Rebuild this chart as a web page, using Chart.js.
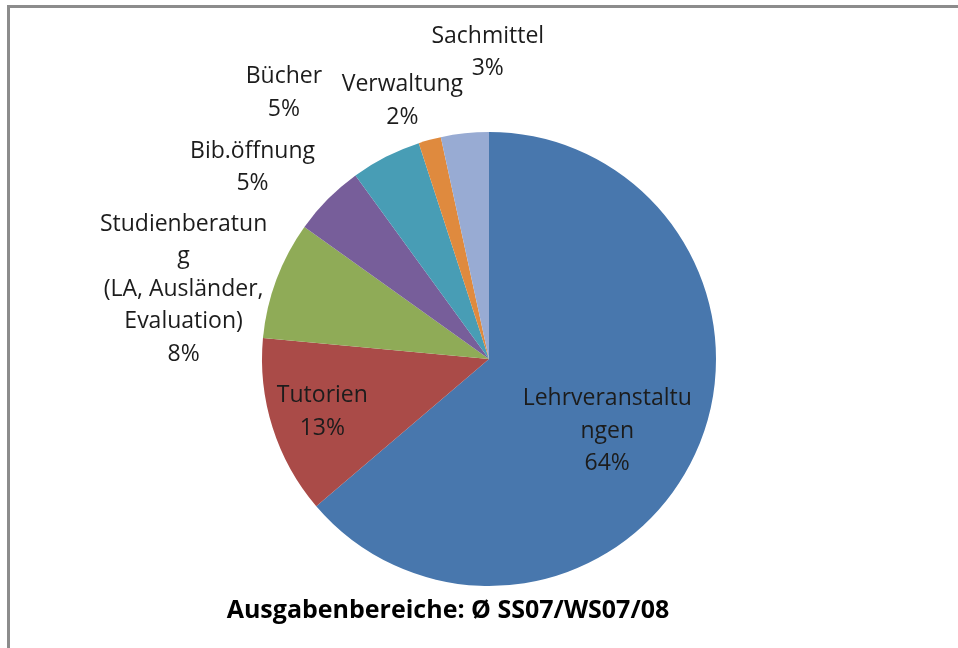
<!DOCTYPE html>
<html>
<head>
<meta charset="utf-8">
<script src="https://cdn.jsdelivr.net/npm/chart.js@4.4.1/dist/chart.umd.min.js"></script>
<style>
  html, body { margin: 0; padding: 0; background: #fff; overflow: hidden; }
  #wrap { position: relative; width: 958px; height: 648px; }
  #frame { position: absolute; left: 7px; top: 5px; width: 1000px; height: 700px; border: 3px solid #8c8c8c; box-sizing: border-box; }
  canvas { position: absolute; left: 0; top: 0; }
</style>
</head>
<body>
<div id="wrap">
  <div id="frame"></div>
  <canvas id="pie" width="958" height="648"></canvas>
</div>
<script>
// Ausgabenbereiche, Anteile in %
var categories = ['Lehrveranstaltungen', 'Tutorien', 'Studienberatung (LA, Ausländer, Evaluation)', 'Bib.öffnung', 'Bücher', 'Verwaltung', 'Sachmittel'];
var values = [63.7, 12.7, 8.4, 5.1, 5.0, 1.6, 3.4];
// how Excel wrapped the label text
var labelLines = [
    ['Lehrveranstaltu', 'ngen'],
    ['Tutorien'],
    ['Studienberatun', 'g', '(LA, Ausländer,', 'Evaluation)'],
    ['Bib.öffnung'],
    ['Bücher'],
    ['Verwaltung'],
    ['Sachmittel']
];
var colors = ['#4877ad', '#aa4b48', '#8fab57', '#775e9a', '#489db5', '#df8a3e', '#98abd3'];

// label placement: radius factor and angle shift (deg) from slice middle
var labelPlace = [[0.61, 6.6], [0.77, 0], [1.38, -7.6], [1.34, -5.8], [1.48, -10.6], [1.20, -3.4], [1.35, 5.9]];

var titleText = 'Ausgabenbereiche: Ø SS07/WS07/08';

var labelPlugin = {
    id: 'excelLabels',
    afterDatasetsDraw: function(chart) {
        var ctx = chart.ctx;
        var meta = chart.getDatasetMeta(0);
        var total = values.reduce(function(a, b) { return a + b; }, 0);
        ctx.save();
        ctx.fillStyle = '#1c1c1c';
        ctx.font = '23px "Open Sans"';
        ctx.textAlign = 'center';
        ctx.textBaseline = 'middle';
        meta.data.forEach(function(arc, i) {
            var mid = (arc.startAngle + arc.endAngle) / 2 + labelPlace[i][1] * Math.PI / 180;
            var rr = arc.outerRadius * labelPlace[i][0];
            var x = arc.x + rr * Math.cos(mid);
            var y = arc.y + rr * Math.sin(mid);
            var lines = labelLines[i].concat([Math.round(values[i] / total * 100) + '%']);
            var lh = 32.5;
            var y0 = y - (lines.length - 1) * lh / 2;
            lines.forEach(function(t, j) {
                ctx.fillText(t, x, y0 + j * lh);
            });
        });
        // title below the pie
        var a0 = meta.data[0];
        ctx.font = 'bold 25px "Open Sans"';
        ctx.fillStyle = '#000';
        ctx.fillText(titleText, a0.x - 41, chart.chartArea.bottom + 25);
        ctx.restore();
    }
};

var pie = new Chart(document.getElementById('pie'), {
    type: 'pie',
    data: {
        labels: categories,
        datasets: [{
            data: values,
            backgroundColor: colors,
            borderWidth: 0
        }]
    },
    options: {
        responsive: false,
        animation: false,
        layout: { padding: { left: 262, right: 242, top: 132, bottom: 62 } },
        plugins: {
            legend: { display: false },
            tooltip: { enabled: false }
        }
    },
    plugins: [labelPlugin]
});
</script>
</body>
</html>
